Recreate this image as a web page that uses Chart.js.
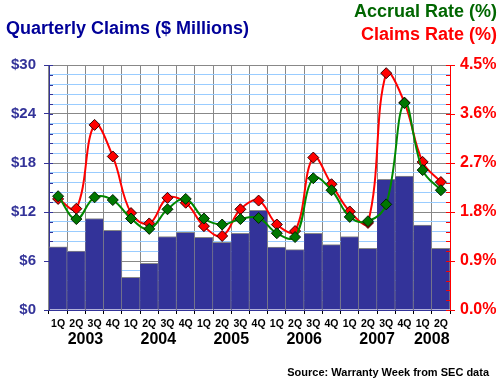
<!DOCTYPE html>
<html>
<head>
<meta charset="utf-8">
<script src="https://cdn.jsdelivr.net/npm/chart.js@4.4.1/dist/chart.umd.min.js"></script>
<style>
html,body{margin:0;padding:0;background:#fff;}
#wrap{width:500px;height:380px;position:relative;}
</style>
</head>
<body>
<div id="wrap"><canvas id="c" width="500" height="380"></canvas></div>
<script>
const quarters = ['1Q','2Q','3Q','4Q','1Q','2Q','3Q','4Q','1Q','2Q','3Q','4Q','1Q','2Q','3Q','4Q','1Q','2Q','3Q','4Q','1Q','2Q'];
const years = ['2003','2004','2005','2006','2007','2008'];
const yearStart = [0,4,8,12,16,20];
const yearEnd = [3,7,11,15,19,21];
const claims = [7.75,7.2,11.2,9.75,4.0,5.7,9.0,9.5,8.9,8.3,9.4,12.2,7.7,7.4,9.4,8.0,9.0,7.55,16.0,16.4,10.4,7.55];
const claimsRate = [2.04,1.86,3.40,2.82,1.78,1.59,2.06,1.97,1.54,1.36,1.85,2.01,1.57,1.45,2.80,2.31,1.81,1.60,4.35,3.81,2.72,2.35];
const accrualRate = [2.09,1.67,2.07,2.02,1.68,1.49,1.85,2.04,1.68,1.57,1.67,1.69,1.41,1.34,2.42,2.20,1.71,1.63,1.94,3.80,2.57,2.20];
const leftTicks = ['$0','$6','$12','$18','$24','$30'];
const rightTicks = ['0.0%','0.9%','1.8%','2.7%','3.6%','4.5%'];

const FONT = '"Liberation Sans", Arial, sans-serif';
const NAVY = '#333399';

const textPlugin = {
  id: 'texts',
  afterDraw(chart) {
    const ctx = chart.ctx;
    const x = chart.scales.x, y = chart.scales.y;
    const ca = chart.chartArea;
    ctx.save();
    // minor inner ticks
    ctx.lineWidth = 1;
    y.ticks.forEach((t) => {
      const py = Math.round(y.getPixelForValue(t.value)) + 0.5;
      ctx.strokeStyle = NAVY;
      ctx.beginPath(); ctx.moveTo(ca.left, py); ctx.lineTo(ca.left + 4, py); ctx.stroke();
      ctx.strokeStyle = '#ff0000';
      ctx.beginPath(); ctx.moveTo(ca.right - 4, py); ctx.lineTo(ca.right, py); ctx.stroke();
    });
    // titles
    ctx.textBaseline = 'alphabetic';
    ctx.font = 'bold 18px ' + FONT;
    ctx.fillStyle = '#000099';
    ctx.textAlign = 'left';
    ctx.fillText('Quarterly Claims ($ Millions)', 6, 34);
    ctx.textAlign = 'right';
    ctx.fillStyle = '#006600';
    ctx.fillText('Accrual Rate (%)', 497, 17);
    ctx.fillStyle = '#ff0000';
    ctx.fillText('Claims Rate (%)', 497, 40);
    // years
    ctx.font = 'bold 16px ' + FONT;
    ctx.fillStyle = '#000000';
    ctx.textAlign = 'center';
    years.forEach((yr, i) => {
      const cx = (x.getPixelForValue(yearStart[i]) + x.getPixelForValue(yearEnd[i])) / 2;
      ctx.fillText(yr, cx, 344);
    });
    // source
    ctx.font = 'bold 11px ' + FONT;
    ctx.textAlign = 'right';
    ctx.fillText('Source: Warranty Week from SEC data', 489, 376);
    ctx.restore();
  }
};

new Chart(document.getElementById('c'), {
  type: 'bar',
  data: {
    labels: quarters,
    datasets: [
      {
        type: 'line', label: 'Accrual Rate (%)', data: accrualRate, yAxisID: 'y1', order: 1,
        borderColor: '#008800', borderWidth: 2, tension: 0.4, fill: false,
        pointStyle: 'rectRot', pointRadius: 5.5, pointBackgroundColor: '#007700',
        pointBorderColor: '#002200', pointBorderWidth: 1
      },
      {
        type: 'line', label: 'Claims Rate (%)', data: claimsRate, yAxisID: 'y1', order: 2,
        borderColor: '#ff0000', borderWidth: 2, tension: 0.4, fill: false,
        pointStyle: 'rectRot', pointRadius: 5.5, pointBackgroundColor: '#ff0000',
        pointBorderColor: '#330000', pointBorderWidth: 1
      },
      {
        type: 'bar', label: 'Quarterly Claims', data: claims, yAxisID: 'y', order: 3,
        backgroundColor: NAVY, borderColor: '#888888',
        borderWidth: {top: 1, right: 1, left: 0, bottom: 0}, borderSkipped: false,
        barPercentage: 1, categoryPercentage: 1
      }
    ]
  },
  options: {
    responsive: false,
    animation: false,
    layout: { padding: { top: 65, left: 0, right: 0, bottom: 0 } },
    plugins: { legend: { display: false }, tooltip: { enabled: false }, title: { display: false } },
    scales: {
      x: {
        offset: true,
        afterFit(s) { s.height = 70; },
        grid: { offset: true, color: '#888888', tickLength: 4, tickColor: '#000000', lineWidth: 1 },
        border: { color: NAVY, width: 1 },
        ticks: { color: '#000000', font: { family: FONT, size: 10.5, weight: 'bold' }, padding: 4, maxRotation: 0, autoSkip: false }
      },
      y: {
        position: 'left', min: 0, max: 30,
        afterFit(s) { s.width = 49; },
        afterBuildTicks(s) { s.ticks = []; for (let i = 0; i <= 25; i++) s.ticks.push({ value: i * 1.2 }); },
        grid: {
          color: (c) => (c.index % 5 === 0 ? '#888888' : '#99ccff'),
          tickLength: 5,
          tickColor: (c) => (c.index % 5 === 0 ? NAVY : 'rgba(0,0,0,0)')
        },
        border: { color: NAVY, width: 1 },
        ticks: {
          autoSkip: false, padding: 8, color: NAVY,
          font: { family: FONT, size: 15, weight: 'bold' },
          callback: (v, i) => (i % 5 === 0 ? leftTicks[i / 5] : '')
        }
      },
      y1: {
        position: 'right', min: 0, max: 4.5,
        afterFit(s) { s.width = 50; },
        afterBuildTicks(s) { s.ticks = []; for (let i = 0; i <= 25; i++) s.ticks.push({ value: i * 0.18 }); },
        grid: {
          drawOnChartArea: false,
          tickLength: 5,
          tickColor: (c) => (c.index % 5 === 0 ? '#ff0000' : 'rgba(0,0,0,0)')
        },
        border: { color: '#ff0000', width: 1 },
        ticks: {
          autoSkip: false, padding: 5, color: '#ff0000',
          font: { family: FONT, size: 16, weight: 'bold' },
          callback: (v, i) => (i % 5 === 0 ? rightTicks[i / 5] : '')
        }
      }
    }
  },
  plugins: [textPlugin]
});
</script>
</body>
</html>
